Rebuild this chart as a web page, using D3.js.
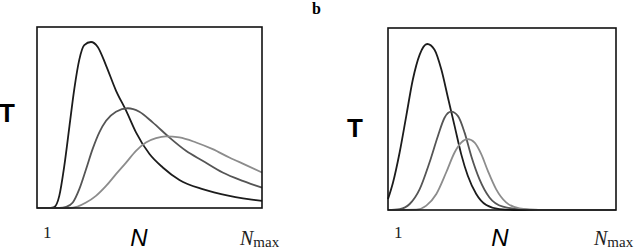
<!DOCTYPE html>
<html>
<head>
<meta charset="utf-8">
<script src="https://cdn.jsdelivr.net/npm/d3@7"></script>
<style>
  body { margin: 0; background: #fff; }
  svg { display: block; }
</style>
</head>
<body>
<svg id="chart" width="640" height="252"></svg>
<script>
// curves, x and y in percent of the box
const leftBlack = [[0,0],[6,0],[7.7,0.5],[9.9,6.7],[12.1,23],[14.4,45],[16.6,66],[18.8,82],[21,90],[24,91.7],[27,89],[30.7,78.7],[35.1,64.9],[39.6,53.8],[44,41.8],[50,29.8],[55.9,22.4],[63.3,15.5],[73.6,10.4],[85.5,6.7],[100,3.9]];
const leftMid = [[0,0],[10,0],[13,0.6],[15.9,3],[18.8,10.4],[21.8,21.4],[24.7,32.5],[27.7,41.8],[30.7,48.2],[35.1,53.2],[40.3,55.1],[45.5,53.2],[51.4,47.3],[58.8,39],[66.2,31.6],[73.6,26.1],[82.5,19.6],[91.4,15],[100,11.3]];
const leftLight = [[0,0],[14,0],[18,0.8],[21.8,3],[26.2,6.7],[30.7,12.2],[35.1,18.7],[39.6,25.1],[44,31.6],[48.4,36.2],[52.9,38.6],[57.3,39.6],[63.3,39],[70.7,36.2],[78.1,32.5],[85.5,27.9],[92.9,23.7],[100,19.6]];

const rightBlack = [[0,6],[2.2,15.1],[5.1,31.6],[8,51.6],[10.9,71.7],[13.9,85.4],[17.2,91.2],[20.4,88.1],[23.4,77.2],[26.3,61.7],[29.2,46.2],[32.1,30.7],[35,18.8],[38.7,8.8],[43.1,2.7],[48.9,0.5],[57,0],[100,0]];
const rightMid = [[0,0],[5.1,0.5],[9.5,3.3],[13.9,11.5],[18.2,26.1],[21.9,40.7],[24.8,50.7],[27.7,54],[30.7,51.6],[33.6,42.5],[36.5,29.7],[40.1,17],[44.5,6.9],[50.4,1.8],[57.7,0.4],[66,0],[100,0]];
const rightLight = [[0,0],[12.4,0.2],[16.8,2.4],[21.2,8.8],[25.5,20.6],[29.2,31.6],[32.1,37],[35,38.9],[38,37],[40.9,30.7],[43.8,21.5],[47.4,11.5],[51.8,4.2],[57.7,0.9],[66.4,0],[100,0]];

const seriesColors = ["#1c1c1c", "#555555", "#8c8c8c"];
const tickLabels = ["1", "N"];

const svg = d3.select("#chart");

function drawPanel(box, series, tLabel) {
   const xScale = d3.scaleLinear().domain([0, 100]).range([box.x0, box.x1]);
   const yScale = d3.scaleLinear().domain([0, 100]).range([box.y1, box.y0]);

   const line = d3.line()
      .x(d => xScale(d[0]))
      .y(d => yScale(d[1]))
      .curve(d3.curveMonotoneX);

   const g = svg.append("g");

   g.selectAll("path.curve")
      .data(series)
      .join("path")
      .attr("class", "curve")
      .attr("d", line)
      .attr("fill", "none")
      .attr("stroke", (d, i) => seriesColors[i])
      .attr("stroke-width", 1.8);

   g.append("rect")
      .attr("x", box.x0)
      .attr("y", box.y0)
      .attr("width", box.x1 - box.x0)
      .attr("height", box.y1 - box.y0)
      .attr("fill", "none")
      .attr("stroke", "#111")
      .attr("stroke-width", 1.6);

   // axis end labels
   g.append("text")
      .attr("x", xScale(0) + 6)
      .attr("y", 238)
      .attr("font-family", "Liberation Serif, DejaVu Serif, serif")
      .attr("font-size", 17)
      .attr("fill", "#222")
      .text(tickLabels[0]);

   const nmax = g.append("text")
      .attr("x", xScale(100) - 22)
      .attr("y", 245)
      .attr("font-family", "Liberation Serif, DejaVu Serif, serif")
      .attr("fill", "#222");
   nmax.append("tspan").attr("font-style", "italic").attr("font-size", 20).text(tickLabels[1]);
   nmax.append("tspan").attr("font-size", 15).attr("dy", 2).text("max");

   // axis titles
   g.append("text")
      .attr("x", box.nx)
      .attr("y", 246)
      .attr("text-anchor", "middle")
      .attr("font-family", "Liberation Sans, Arial, sans-serif")
      .attr("font-style", "italic")
      .attr("font-size", 24)
      .attr("fill", "#000")
      .text("N");

   g.append("text")
      .attr("x", box.tx)
      .attr("y", box.ty)
      .attr("font-family", "Liberation Sans, Arial, sans-serif")
      .attr("font-weight", "bold")
      .attr("font-size", 26)
      .attr("fill", "#000")
      .text(tLabel);
}

drawPanel({x0: 37, x1: 262, y0: 27, y1: 208, nx: 139, tx: -1, ty: 122},
   [leftBlack, leftMid, leftLight], "T");
drawPanel({x0: 388, x1: 616, y0: 28, y1: 210, nx: 500, tx: 347, ty: 137},
   [rightBlack, rightMid, rightLight], "T");

svg.append("text")
   .attr("x", 312)
   .attr("y", 14)
   .attr("font-family", "Liberation Serif, DejaVu Serif, serif")
   .attr("font-weight", "bold")
   .attr("font-size", 16)
   .attr("fill", "#000")
   .text("b");
</script>
</body>
</html>
